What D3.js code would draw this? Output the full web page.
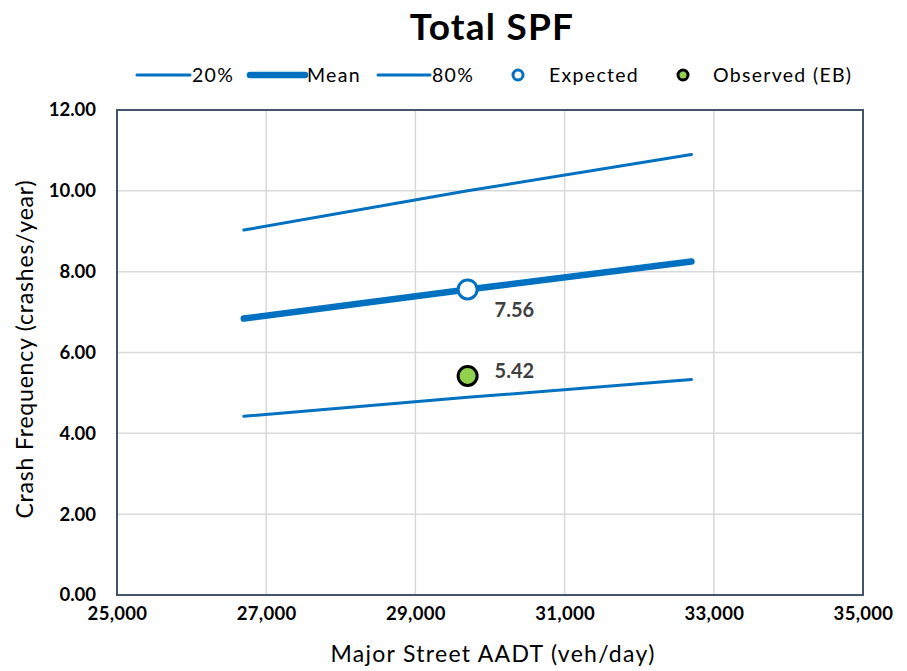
<!DOCTYPE html>
<html><head><meta charset="utf-8">
<script src="https://cdn.jsdelivr.net/npm/d3@7"></script>
<style>body{margin:0;background:#fff}svg{display:block}text{font-family:Lato,"Open Sans",sans-serif}</style>
</head><body><div id="chart"></div>
<script>
const aadt = [26700, 29700, 32700];
const p20 = [4.42, 4.89, 5.33];
const mean = [6.84, 7.56, 8.25];
const p80 = [9.03, 10.0, 10.90];
const expected = {x: 29700, y: 7.56};
const observed = {x: 29700, y: 5.42};
const xTicks = [25000, 27000, 29000, 31000, 33000, 35000];
const yTicks = [0, 2, 4, 6, 8, 10, 12];

const W = 907, H = 671;
const m = {l: 117, r: 907 - 863, t: 110, b: 671 - 595};
const svg = d3.select("#chart").append("svg").attr("width", W).attr("height", H);
const x = d3.scaleLinear().domain([25000, 35000]).range([m.l, W - m.r]);
const y = d3.scaleLinear().domain([0, 12]).range([H - m.b, m.t]);
const blue = "#0070C0";

// grid
const g = svg.append("g");
g.selectAll(".gx").data(xTicks.slice(1, -1)).join("line")
  .attr("x1", d => x(d)).attr("x2", d => x(d)).attr("y1", y(12)).attr("y2", y(0))
  .attr("stroke", "#D9D9D9").attr("stroke-width", 1.5);
g.selectAll(".gy").data(yTicks.slice(1, -1)).join("line")
  .attr("y1", d => y(d)).attr("y2", d => y(d)).attr("x1", x(25000)).attr("x2", x(35000))
  .attr("stroke", "#D9D9D9").attr("stroke-width", 1.5);

// axes (labels)
const fmtX = d3.format(",");
const xAxis = svg.append("g").attr("transform", `translate(0,${y(0)})`)
  .call(d3.axisBottom(x).tickValues(xTicks).tickFormat(fmtX).tickSize(0).tickPadding(12));
xAxis.select(".domain").remove();
xAxis.selectAll("text").attr("font-size", 18.5).attr("font-weight", "bold").attr("fill", "#000")
  .style("font-family", "Lato").attr("letter-spacing", 0.3);
const yAxis = svg.append("g").attr("transform", `translate(${x(25000)},0)`)
  .call(d3.axisLeft(y).tickValues(yTicks).tickFormat(d3.format(".2f")).tickSize(0).tickPadding(21));
yAxis.select(".domain").remove();
yAxis.selectAll("text").attr("font-size", 18.5).attr("font-weight", "bold").attr("fill", "#000")
  .style("font-family", "Lato");

// border
svg.append("rect").attr("x", x(25000)).attr("y", y(12)).attr("width", x(35000) - x(25000)).attr("height", y(0) - y(12))
  .attr("fill", "none").attr("stroke", "#44546A").attr("stroke-width", 2);

// lines
const line = d3.line().x((d, i) => x(aadt[i])).y(d => y(d));
const series = [{v: p20, w: 3}, {v: p80, w: 3}, {v: mean, w: 6.5}];
svg.selectAll(".s").data(series).join("path")
  .attr("d", d => line(d.v)).attr("fill", "none").attr("stroke", blue)
  .attr("stroke-width", d => d.w).attr("stroke-linecap", "round");

// points
svg.append("circle").attr("cx", x(expected.x)).attr("cy", y(expected.y)).attr("r", 9.5)
  .attr("fill", "#fff").attr("stroke", blue).attr("stroke-width", 3);
svg.append("circle").attr("cx", x(observed.x)).attr("cy", y(observed.y)).attr("r", 9.5)
  .attr("fill", "#92D050").attr("stroke", "#000").attr("stroke-width", 3);
svg.append("text").attr("x", x(expected.x) + 27).attr("y", y(expected.y) + 27.5)
  .attr("font-size", 20).attr("font-weight", "bold").attr("fill", "#404040").text(expected.y.toFixed(2));
svg.append("text").attr("x", x(observed.x) + 27).attr("y", y(observed.y) + 2.5)
  .attr("font-size", 20).attr("font-weight", "bold").attr("fill", "#404040").text(observed.y.toFixed(2));

// title
svg.append("text").attr("x", 492).attr("y", 39.5).attr("text-anchor", "middle")
  .attr("font-size", 37).attr("font-weight", "bold").attr("fill", "#000")
  .attr("letter-spacing", 1.2).text("Total SPF");

// axis titles
svg.append("text").attr("x", 493).attr("y", 662).attr("text-anchor", "middle")
  .attr("font-size", 23).attr("fill", "#000").attr("letter-spacing", 1.3).text("Major Street AADT (veh/day)");
svg.append("text").attr("transform", "translate(33,349) rotate(-90)").attr("text-anchor", "middle")
  .attr("font-size", 23).attr("fill", "#000").attr("letter-spacing", 0.8).text("Crash Frequency (crashes/year)");

// legend
const ly = 75;
const leg = svg.append("g").attr("font-size", 19.5).attr("fill", "#000").attr("letter-spacing", 1.3);
[[137, 190, 3, "20%"], [250, 305, 6.5, "Mean"], [378, 430, 3, "80%"]].forEach(([a, b, w, t]) => {
  leg.append("line").attr("x1", a).attr("x2", b).attr("y1", ly).attr("y2", ly)
    .attr("stroke", blue).attr("stroke-width", w).attr("stroke-linecap", "round");
  leg.append("text").attr("x", b + 2).attr("y", ly + 7).text(t);
});
leg.append("circle").attr("cx", 518).attr("cy", ly).attr("r", 5).attr("fill", "#fff").attr("stroke", blue).attr("stroke-width", 3);
leg.append("text").attr("x", 549).attr("y", ly + 7).text("Expected");
leg.append("circle").attr("cx", 683).attr("cy", ly).attr("r", 5).attr("fill", "#92D050").attr("stroke", "#000").attr("stroke-width", 3);
leg.append("text").attr("x", 713).attr("y", ly + 7).text("Observed (EB)");
</script></body></html>
